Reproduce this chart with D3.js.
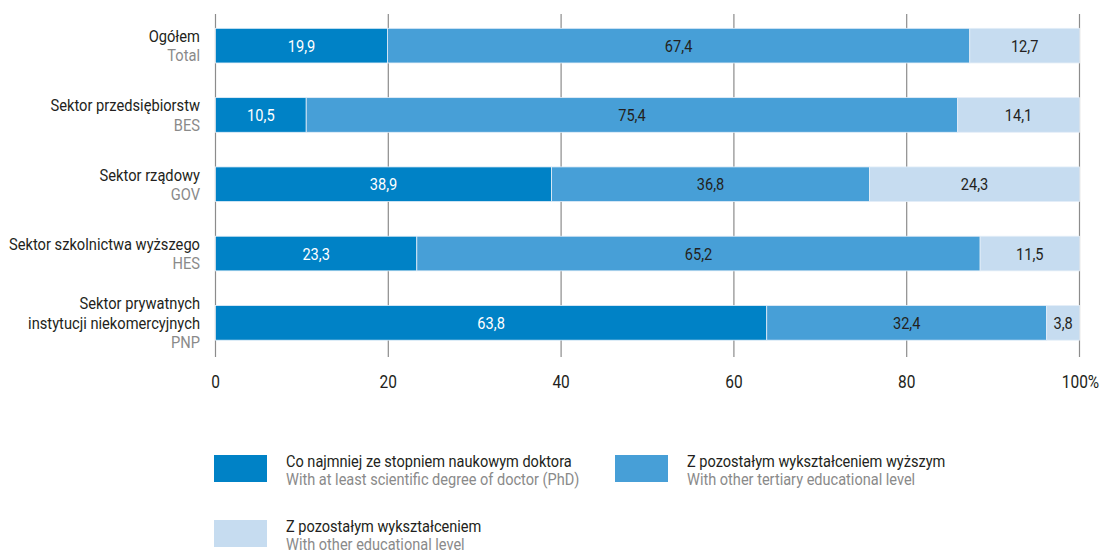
<!DOCTYPE html>
<html>
<head>
<meta charset="utf-8">
<script src="https://cdn.jsdelivr.net/npm/d3@7"></script>
<style>
	body { margin: 0; background: #fff; }
	svg { display: block; font-family: 'Roboto', 'DejaVu Sans Condensed', sans-serif; }
	.pl { fill: #231f20; }
	.en { fill: #8a8a8a; }
</style>
</head>
<body>
<svg id="chart-svg" width="1101" height="555"></svg>
<script>
// categories (Polish / English lines)
const categoriesPl = [
	['Ogółem'],
	['Sektor przedsiębiorstw'],
	['Sektor rządowy'],
	['Sektor szkolnictwa wyższego'],
	['Sektor prywatnych', 'instytucji niekomercyjnych']
];
const categoriesEn = ['Total', 'BES', 'GOV', 'HES', 'PNP'];

// series values (%)
const phdValues = [19.9, 10.5, 38.9, 23.3, 63.8];
const tertiaryValues = [67.4, 75.4, 36.8, 65.2, 32.4];
const otherValues = [12.7, 14.1, 24.3, 11.5, 3.8];

const seriesPl = [
	'Co najmniej ze stopniem naukowym doktora',
	'Z pozostałym wykształceniem wyższym',
	'Z pozostałym wykształceniem'
];
const seriesEn = [
	'With at least scientific degree of doctor (PhD)',
	'With other tertiary educational level',
	'With other educational level'
];
const tickValues = [0, 20, 40, 60, 80, 100];

const COLORS = ['#0082c6', '#479fd7', '#c6dcf0'];
const TEXT_COLORS = ['#ffffff', '#231f20', '#231f20'];
const NARROW = 0.86; // squeeze to mimic condensed font

const svg = d3.select('#chart-svg');

// condensed text helper
function narrowText(g, x, y, str, anchor, size, cls, fill, sx = NARROW) {
	const t = g
		.append('text')
		.attr('transform', 'translate(' + x + ',' + y + ') scale(' + sx + ',1)')
		.attr('text-anchor', anchor)
		.attr('font-size', size)
		.text(str);
	if (cls) t.attr('class', cls);
	if (fill) t.attr('fill', fill);
	return t;
}

const rows = categoriesEn.map((c, i) => ({
	key: c,
	values: [phdValues[i], tertiaryValues[i], otherValues[i]]
}));

const xScale = d3.scaleLinear().domain([0, 100]).range([215.5, 1079.5]);
const yScale = d3.scaleBand().domain(categoriesEn).range([11, 357.5]).paddingInner(0.5).paddingOuter(0.25);
const bw = yScale.bandwidth();

// grid lines
svg
	.append('g')
	.selectAll('line')
	.data(tickValues)
	.enter()
	.append('line')
	.attr('x1', (d) => xScale(d))
	.attr('x2', (d) => xScale(d))
	.attr('y1', 14)
	.attr('y2', 357)
	.attr('stroke', '#8c8c8c')
	.attr('stroke-width', 1.2);

// stacked segments
const stacked = rows.flatMap((r) => {
	let acc = 0;
	return r.values.map((v, j) => {
		const seg = { key: r.key, j: j, v: v, x0: acc, x1: acc + v };
		acc += v;
		return seg;
	});
});

svg
	.append('g')
	.selectAll('rect')
	.data(stacked)
	.enter()
	.append('rect')
	.attr('x', (d) => xScale(d.x0))
	.attr('y', (d) => yScale(d.key))
	.attr('width', (d) => xScale(d.x1) - xScale(d.x0))
	.attr('height', bw)
	.attr('fill', (d) => COLORS[d.j])
	.attr('stroke', '#e4eef8')
	.attr('stroke-width', 0.8);

const valG = svg.append('g');
stacked.forEach((d) => {
	narrowText(
		valG,
		xScale((d.x0 + d.x1) / 2),
		yScale(d.key) + bw / 2 + 6,
		d.v.toFixed(1).replace('.', ','),
		'middle',
		17,
		null,
		TEXT_COLORS[d.j]
	);
});

// category labels
const catG = svg.append('g');
categoriesEn.forEach((c, i) => {
	const lines = categoriesPl[i];
	const yc = yScale(c) + bw / 2;
	const total = lines.length + 1;
	const top = yc - ((total - 1) * 19.5) / 2 + 6;
	lines.forEach((l, k) => {
		narrowText(catG, 200, top + k * 19.5, l, 'end', 16.5, 'pl', null, 0.89);
	});
	narrowText(catG, 200, top + lines.length * 19.5, c, 'end', 16.5, 'en', null, 0.89);
});

// x axis labels
const tickG = svg.append('g');
tickValues.forEach((d) => {
	narrowText(tickG, xScale(d) + (d === 100 ? 1 : 0), 388, d === 100 ? '100%' : String(d), 'middle', 18, null, '#231f20');
});

// legend
const legendPos = [ [214, 455], [615, 455], [214, 520] ];
const legendG = svg.append('g');
seriesPl.forEach((s, i) => {
	const [lx, ly] = legendPos[i];
	legendG.append('rect').attr('x', lx).attr('y', ly).attr('width', 53).attr('height', 27).attr('fill', COLORS[i]);
	narrowText(legendG, lx + 72, ly + 12, s, 'start', 16, 'pl', null, 0.91);
	narrowText(legendG, lx + 72, ly + 30, seriesEn[i], 'start', 16, 'en', null, 0.91);
});
</script>
</body>
</html>
